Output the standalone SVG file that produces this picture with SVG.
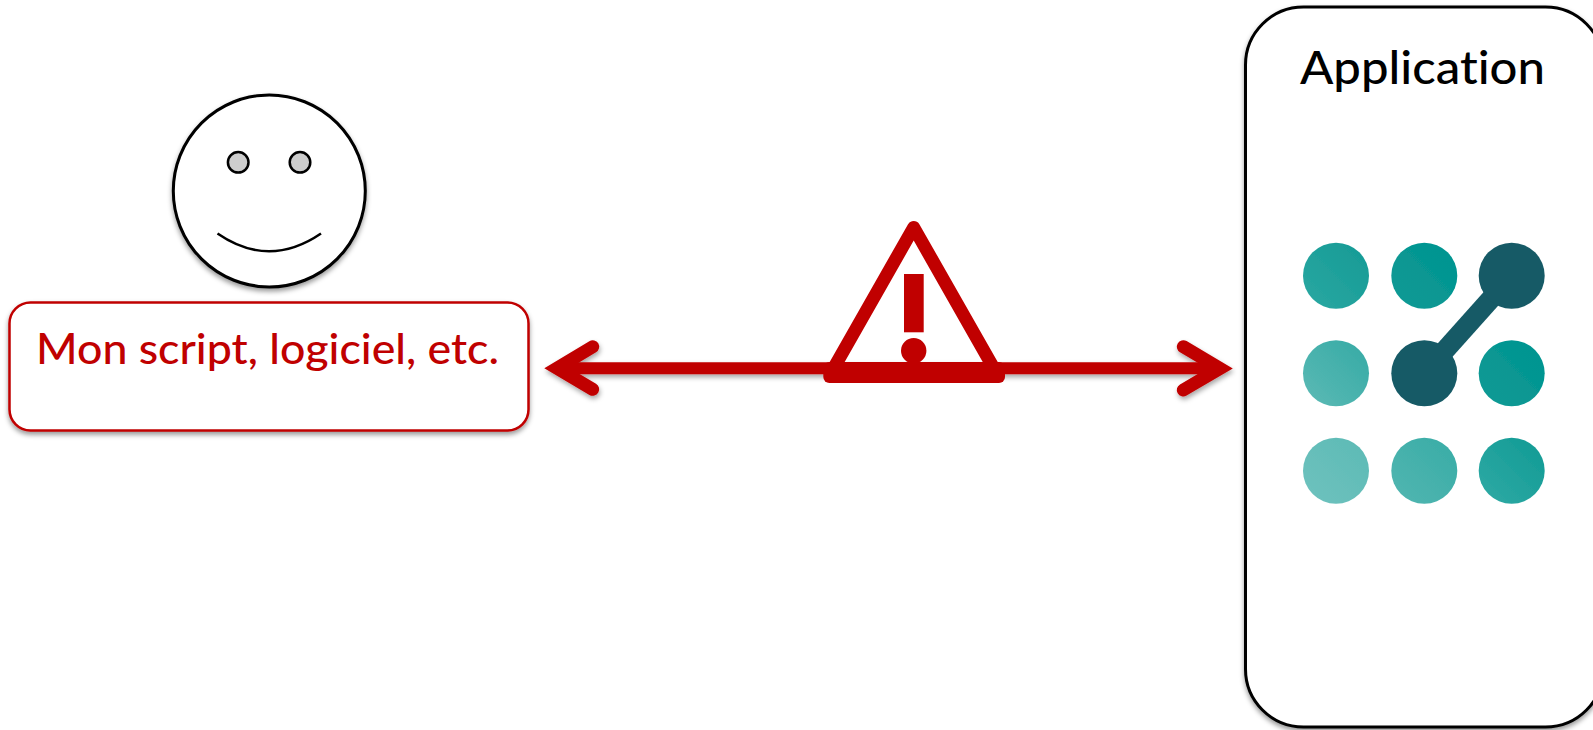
<svg xmlns="http://www.w3.org/2000/svg" width="1593" height="730" viewBox="0 0 1593 730">
<defs>
<style>
.label{font-family:Lato,"Open Sans",sans-serif;font-variant-ligatures:none;font-weight:500}
.blk{stroke:#000;fill:#fff}
.shaft{stroke:#c00000;fill:none;stroke-width:12}
.head{stroke:#c00000;fill:none;stroke-width:13;stroke-linecap:round;stroke-linejoin:miter;stroke-miterlimit:6}
.dot{stroke:#000;fill:#cdcdcd;stroke-width:2.5}
</style>
<filter id="sh" x="-10%" y="-10%" width="120%" height="120%"><feDropShadow dx="0" dy="3" stdDeviation="2.5" flood-color="#000" flood-opacity="0.4"/></filter>
<filter id="sa" filterUnits="userSpaceOnUse" x="520" y="320" width="730" height="100"><feDropShadow dx="1" dy="3" stdDeviation="2.5" flood-color="#000" flood-opacity="0.35"/></filter>
<filter id="soft" filterUnits="userSpaceOnUse" x="1280" y="220" width="290" height="300"><feGaussianBlur stdDeviation="0.7"/></filter>
<linearGradient id="g1" x1="0" y1="1" x2="1" y2="0"><stop offset="0" stop-color="#2aa8a2"/><stop offset="1" stop-color="#159a95"/></linearGradient>
<linearGradient id="g2" x1="0" y1="1" x2="1" y2="0"><stop offset="0" stop-color="#0f9a95"/><stop offset="1" stop-color="#009490"/></linearGradient>
<linearGradient id="g3" x1="0" y1="1" x2="1" y2="0"><stop offset="0" stop-color="#5cbab5"/><stop offset="1" stop-color="#35aaa5"/></linearGradient>
<linearGradient id="g4" x1="0" y1="1" x2="1" y2="0"><stop offset="0" stop-color="#6fc2be"/><stop offset="1" stop-color="#5cbab5"/></linearGradient>
<linearGradient id="g5" x1="0" y1="1" x2="1" y2="0"><stop offset="0" stop-color="#52b6b1"/><stop offset="1" stop-color="#38aca6"/></linearGradient>
<linearGradient id="g6" x1="0" y1="1" x2="1" y2="0"><stop offset="0" stop-color="#30aaa5"/><stop offset="1" stop-color="#109a94"/></linearGradient>
</defs>
<rect width="1593" height="730" fill="#fff"/>
<g id="face">
<circle class="blk" cx="269.3" cy="191" r="96" stroke-width="3" filter="url(#sh)"/>
<circle class="dot" cx="238.2" cy="162.3" r="10.3"/>
<circle class="dot" cx="300" cy="162.3" r="10.3"/>
<path d="M217.5 233.5Q269 269 321 233.5" fill="none" stroke="#000" stroke-width="2.5"/>
</g>
<g id="script">
<rect x="9.5" y="302.5" width="519" height="128" rx="21" fill="#fff" stroke="#c00000" stroke-width="2.5" filter="url(#sh)"/>
<text class="label" x="36" y="363.5" font-size="42" fill="#c00000" textLength="463" lengthAdjust="spacingAndGlyphs">Mon script, logiciel, etc.</text>
</g>
<g id="application">
<rect x="1245.5" y="7" width="358" height="720" rx="58" class="blk" stroke-width="3" filter="url(#sh)"/>
<text class="label" x="1300" y="83.5" font-size="46" fill="#000" textLength="245" lengthAdjust="spacingAndGlyphs">Application</text>
<g id="logo" filter="url(#soft)">
<circle cx="1336" cy="275.7" r="33" fill="url(#g1)"/>
<circle cx="1424.3" cy="275.7" r="33" fill="url(#g2)"/>
<line x1="1424.3" y1="373.3" x2="1511.7" y2="275.7" stroke="#175a66" stroke-width="20"/>
<circle cx="1511.7" cy="275.7" r="33" fill="#175a66"/>
<circle cx="1336" cy="373.3" r="33" fill="url(#g3)"/>
<circle cx="1424.3" cy="373.3" r="33" fill="#175a66"/>
<circle cx="1511.7" cy="373.3" r="33" fill="url(#g2)"/>
<circle cx="1336" cy="470.7" r="33" fill="url(#g4)"/>
<circle cx="1424.3" cy="470.7" r="33" fill="url(#g5)"/>
<circle cx="1511.7" cy="470.7" r="33" fill="url(#g6)"/>
</g>
</g>
<g id="connectors">
<g filter="url(#sa)">
<path class="shaft" d="M560 368.3H1217"/>
<path class="head" d="M592.7 346.7L557 368.2L592.7 389.3"/>
<path class="head" d="M1183.3 346.7L1220 368.4L1183.3 390"/>
</g>
</g>
<g id="warning" fill="#c00000">
<circle cx="913.7" cy="350.7" r="12.7"/>
<rect x="904" y="274" width="19.7" height="58.3"/>
<path d="M829.2 376L913.7 227.4L998.2 376" fill="none" stroke="#c00000" stroke-width="13" stroke-linejoin="round"/>
<rect x="823.3" y="362" width="181.7" height="21" rx="6"/>
</g>
</svg>
